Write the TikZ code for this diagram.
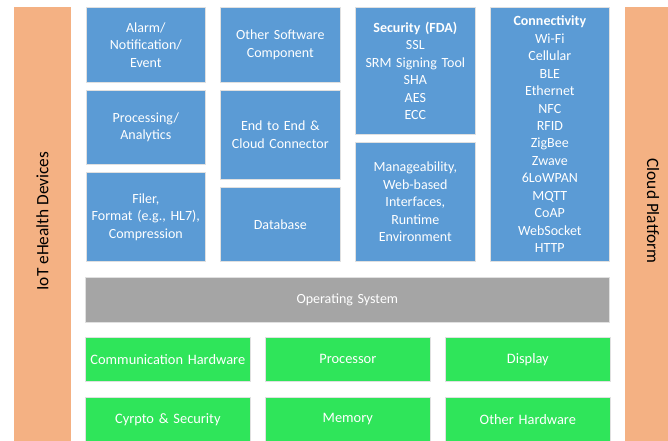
\documentclass[tikz,border=0pt]{standalone}
\usepackage{fontspec}
\setmainfont{Carlito}
\definecolor{bblue}{HTML}{5B9BD5}
\definecolor{ggray}{HTML}{A5A5A5}
\definecolor{ggreen}{HTML}{2FE55A}
\definecolor{oorange}{HTML}{F4B183}
\begin{document}
\begin{tikzpicture}[x=0.75pt,y=-0.75pt,
  bx/.style 2 args={draw=black!12, line width=0.5pt, inner sep=0pt, anchor=north west,
    minimum width=#1, minimum height=#2, text width=#1, align=center,
    text=white, font=\fontsize{10.5pt}{13.1pt}\selectfont},
  bluebox/.style 2 args={bx={#1}{#2}, fill=bblue},
  graybox/.style 2 args={bx={#1}{#2}, fill=ggray},
  greenbox/.style 2 args={bx={#1}{#2}, fill=ggreen, font=\fontsize{10.8pt}{13pt}\selectfont},
  sidebar/.style={fill=oorange, draw=none},
  sidetext/.style={font=\fontsize{13pt}{15pt}\selectfont, text=black}]
\useasboundingbox (0,0) rectangle (668,441);
\fill[white] (0,0) rectangle (668,441);
% side bars
\fill[sidebar] (14,7) rectangle (71,460);
\fill[sidebar] (625,7) rectangle (690,460);
\node[sidetext, rotate=90] (iot) at (42.5,221) {IoT eHealth Devices};
\node[sidetext, rotate=-90] (cloud) at (653,211) {Cloud Platform};
% column 1
\node[bluebox={89.25pt}{56.25pt}] (alarm) at (86,7) {Alarm/\\Notification/\\Event};
\node[bluebox={89.25pt}{55.5pt}] (proc) at (86,90) {Processing/\\Analytics};
\node[bluebox={89.25pt}{66.75pt}] (filer) at (86,172) {Filer,\\Format (e.g., HL7),\\Compression};
% column 2
\node[bluebox={90pt}{56.25pt}] (other) at (220,7) {Other Software\\Component};
\node[bluebox={90pt}{66.75pt}] (e2e) at (220,90) {End to End \&\\Cloud Connector};
\node[bluebox={90pt}{55.5pt}] (db) at (220,187) {Database};
% column 3
\node[bluebox={90pt}{95.25pt}] (sec) at (355,7) {\textbf{Security (FDA)}\\SSL\\SRM Signing Tool\\SHA\\AES\\ECC};
\node[bluebox={90pt}{89.25pt}] (mgmt) at (355,142) {Manageability,\\Web-based\\Interfaces,\\Runtime\\Environment};
% column 4
\node[bluebox={89.25pt}{190.5pt}] (conn) at (490,7) {\textbf{Connectivity}\\Wi-Fi\\Cellular\\BLE\\Ethernet\\NFC\\RFID\\ZigBee\\Zwave\\6LoWPAN\\MQTT\\CoAP\\WebSocket\\HTTP};
% OS
\node[graybox={393pt}{33.75pt}] (os) at (85,277) {Operating System};
% hardware
\node[greenbox={123.75pt}{33pt}] (comm) at (85,337) {Communication Hardware};
\node[greenbox={123.75pt}{33pt}] (cpu) at (265,337) {Processor};
\node[greenbox={123.75pt}{33pt}] (disp) at (445,337) {Display};
\node[greenbox={123.75pt}{33pt}] (crypto) at (85,397) {Cyrpto \& Security};
\node[greenbox={123.75pt}{33pt}] (mem) at (265,397) {Memory};
\node[greenbox={123.75pt}{33pt}] (ohw) at (445,397) {Other Hardware};
\end{tikzpicture}
\end{document}
